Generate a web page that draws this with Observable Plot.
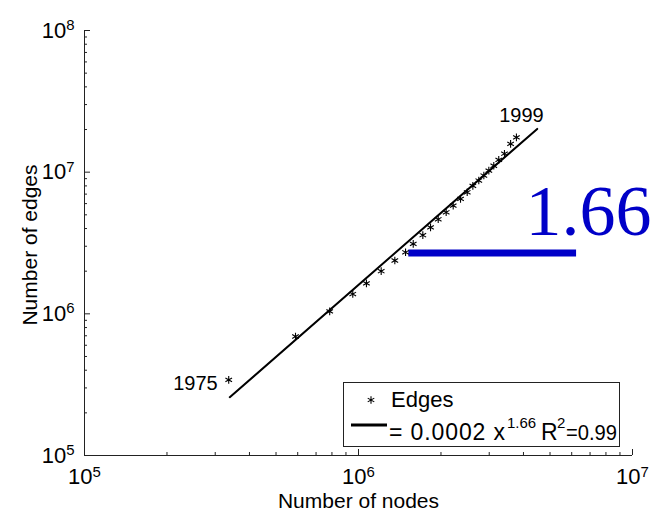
<!DOCTYPE html>
<html><head><meta charset="utf-8">
<script src="https://cdn.jsdelivr.net/npm/d3@7"></script>
<script src="https://cdn.jsdelivr.net/npm/@observablehq/plot@0.6"></script>
<style>body{margin:0;background:#fff}#chart{width:656px;height:512px}</style>
</head><body><div id="chart"></div>
<script>
// Data
const years = [1975,1976,1977,1978,1979,1980,1981,1982,1983,1984,1985,1986,1987,1988,1989,1990,1991,1992,1993,1994,1995,1996,1997,1998,1999];
const nodes = [336000,589000,785000,953000,1069000,1210000,1357000,1485000,1584000,1717000,1832000,1954000,2089000,2216000,2357000,2493000,2614000,2748000,2867000,2990000,3117000,3250000,3410000,3590000,3770000];
const edges = [342000,692000,1040000,1380000,1640000,2000000,2380000,2720000,3120000,3590000,4080000,4650000,5210000,5810000,6480000,7210000,8000000,8730000,9470000,10260000,11100000,12200000,13500000,15850000,17600000];
const fitNodes = [339000, 4490000];
const fitEdges = [258000, 20200000];
const xMajor = [1e5, 1e6, 1e7];
const xMinor = [2e5,3e5,4e5,5e5,6e5,7e5,8e5,9e5,2e6,3e6,4e6,5e6,6e6,7e6,8e6,9e6];
const yMajor = [1e5, 1e6, 1e7, 1e8];
const yMinor = [2e5,3e5,4e5,5e5,6e5,7e5,8e5,9e5,2e6,3e6,4e6,5e6,6e6,7e6,8e6,9e6,2e7,3e7,4e7,5e7,6e7,7e7,8e7,9e7];
const slopeLabel = ["1.66"];
const slopeBarX = [1526000, 6250000];
const slopeBarY = [2685000];
const slopeTextX = [4070000];
const slopeTextY = [3630000];
const xTitle = "Number of nodes";
const yTitle = "Number of edges";
const legendSeries = "Edges";
const legendFit = ["= 0.0002 x", "1.66", "R", "2", "=0.99"];

const table = years.map((yr, i) => ({year: yr, nodes: nodes[i], edges: edges[i]}));
const fit = fitNodes.map((n, i) => ({nodes: n, edges: fitEdges[i]}));
const FONT = "Liberation Sans, Arial, Helvetica, sans-serif";
const fmtPow = d => "10^" + Math.round(Math.log10(d));

const chart = Plot.plot({
  width: 656, height: 512,
  marginLeft: 84, marginRight: 24, marginTop: 30, marginBottom: 57,
  style: {fontFamily: FONT, background: "white", color: "black", overflow: "visible"},
  x: {type: "log", domain: [1e5, 1e7]},
  y: {type: "log", domain: [1e5, 1e8]},
  marks: [
    Plot.ruleY([1e5], {x1: 1e5, x2: 1e7, stroke: "#222"}),
    Plot.ruleX([1e5], {y1: 1e5, y2: 1e8, stroke: "#222"}),
    Plot.axisX({ticks: xMinor, tickSize: -3, tickFormat: () => "", label: null, stroke: "#222"}),
    Plot.axisX({ticks: xMajor, tickSize: -6, tickFormat: () => "", label: null, stroke: "#222"}),
    Plot.axisX({ticks: xMajor, tickSize: 0, tickPadding: 13, tickFormat: fmtPow, label: null, fontSize: 22}),
    Plot.axisY({ticks: yMinor, tickSize: -3, tickFormat: () => "", label: null, stroke: "#222"}),
    Plot.axisY({ticks: yMajor, tickSize: 0, tickPadding: 10, tickFormat: fmtPow, label: null, fontSize: 22}),
    Plot.axisY({ticks: yMajor, tickSize: -6, tickFormat: () => "", label: null, stroke: "#222"}),
    Plot.ruleY(slopeBarY, {x1: slopeBarX[0], x2: slopeBarX[1], stroke: "#0000c8", strokeWidth: 7}),
    Plot.text(slopeLabel, {x: slopeTextX, y: slopeTextY, text: d => d, textAnchor: "start", lineAnchor: "bottom", fill: "#0000c8", fontSize: 72, fontFamily: "Liberation Serif, Times New Roman, serif"}),
    Plot.line(fit, {x: "nodes", y: "edges", stroke: "black", strokeWidth: 2}),
    Plot.dot(table, {x: "nodes", y: "edges", symbol: "asterisk", r: 3.6, stroke: "black", strokeWidth: 1.1}),
    Plot.text([table[0]], {x: "nodes", y: "edges", text: d => String(d.year), textAnchor: "end", dx: -11, dy: 4, fontSize: 20}),
    Plot.text([table[table.length - 1]], {x: "nodes", y: "edges", text: d => String(d.year), dx: 5, dy: -22, fontSize: 20}),
    Plot.text([xTitle], {frameAnchor: "bottom", text: d => d, textAnchor: "middle", lineAnchor: "middle", dy: 46, fontSize: 21}),
    Plot.text([yTitle], {frameAnchor: "left", text: d => d, textAnchor: "middle", lineAnchor: "middle", rotate: -90, dx: -54, dy: 2, fontSize: 21})
  ]
});

// superscripts in tick labels
d3.select(chart).selectAll("text").each(function() {
  const t = this.textContent;
  if (t.startsWith("10^")) {
    const exp = t.slice(3);
    this.textContent = "10";
    d3.select(this).append("tspan").attr("dy", "-0.5em").attr("font-size", "0.68em").text(exp);
  }
});

// legend
const svg = d3.select(chart);
const lg = svg.append("g").attr("font-family", FONT).attr("font-size", 22).attr("text-anchor", "start").attr("fill", "black");
lg.append("rect").attr("x", 343.5).attr("y", 382.5).attr("width", 276).attr("height", 64)
  .attr("fill", "white").attr("stroke", "#222");
lg.append("path").attr("d", d3.symbol(d3.symbolAsterisk, 40)())
  .attr("transform", "translate(371,400)").attr("stroke", "black").attr("stroke-width", 1.1).attr("fill", "none");
lg.append("text").attr("x", 391).attr("y", 407).text(legendSeries);
lg.append("line").attr("x1", 351).attr("x2", 387).attr("y1", 425).attr("y2", 425)
  .attr("stroke", "black").attr("stroke-width", 3);
lg.append("text").attr("x", 389).attr("y", 440).attr("font-size", 23).attr("textLength", 116).attr("lengthAdjust", "spacing").text(legendFit[0]);
lg.append("text").attr("x", 507).attr("y", 428).attr("font-size", 15).text(legendFit[1]);
lg.append("text").attr("x", 541).attr("y", 440).attr("font-size", 23).text(legendFit[2]);
lg.append("text").attr("x", 557).attr("y", 428).attr("font-size", 15).text(legendFit[3]);
lg.append("text").attr("x", 566).attr("y", 440).attr("font-size", 22).attr("textLength", 51).attr("lengthAdjust", "spacingAndGlyphs").text(legendFit[4]);

document.getElementById("chart").appendChild(chart);
</script></body></html>
